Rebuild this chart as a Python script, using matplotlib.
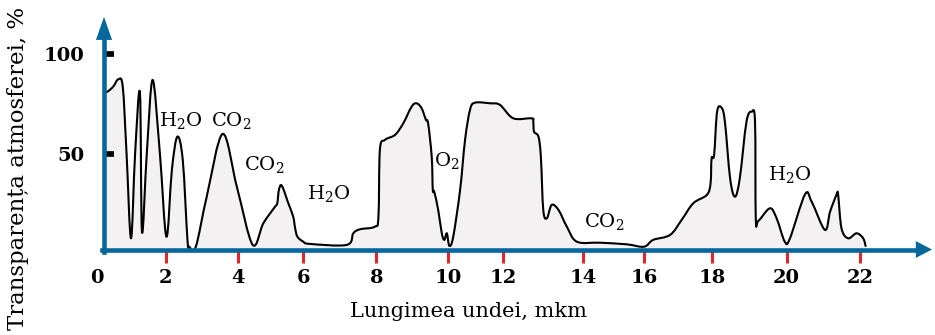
"""
Atmospheric transparency versus wavelength,
with the absorption bands of H2O, CO2 and O2.
"""

import numpy as np
import matplotlib
matplotlib.use("Agg")
import matplotlib.pyplot as plt
from matplotlib.path import Path
from matplotlib.patches import PathPatch
from matplotlib.transforms import IdentityTransform

# wavelength, mkm
WAVELENGTH: list[float] = [
    0.20, 0.30, 0.47, 0.62, 0.75, 0.86, 0.99, 1.11, 1.25, 1.31,
    1.45, 1.62, 1.83, 2.02, 2.17, 2.32, 2.47, 2.60, 2.65, 2.83,
    3.13, 3.57, 3.96, 4.44, 4.77, 5.13, 5.20, 5.25, 5.34, 5.54,
    5.69, 5.75, 5.82, 6.00, 6.18, 7.19, 7.37, 7.55, 7.96, 8.06,
    8.10, 8.24, 8.52, 8.75, 8.98, 9.12, 9.26, 9.38, 9.44, 9.54,
    9.57, 9.61, 9.72, 9.82, 9.89, 9.96, 10.04, 10.18, 10.43, 10.61,
    10.79, 10.97, 11.52, 11.88, 12.25, 12.71, 12.75, 12.77, 12.88, 12.94,
    13.00, 13.09, 13.21, 13.38, 13.59, 13.84, 14.55, 15.42, 15.99, 16.26,
    16.76, 17.10, 17.44, 17.84, 17.95, 17.98, 18.05, 18.13, 18.25, 18.34,
    18.48, 18.61, 18.74, 18.92, 19.06, 19.15, 19.17, 19.24, 19.55, 19.73,
    19.95, 20.09, 20.50, 20.68, 21.04, 21.18, 21.36, 21.40, 21.49, 21.67,
    21.90, 22.08, 22.15,
]

# transparency, %
TRANSPARENCY: list[float] = [
    81.3, 81.3, 83.8, 87.5, 83.8, 50.6, 8.0, 50.6, 80.8, 11.2,
    50.6, 87.2, 50.6, 8.8, 42.2, 58.8, 47.2, 7.2, 3.8, 3.8,
    28.8, 60.2, 33.8, 4.8, 15.5, 23.8, 25.5, 32.2, 34.3, 25.5,
    18.8, 13.0, 8.8, 6.3, 5.2, 4.7, 10.5, 12.5, 13.8, 18.8,
    52.2, 57.2, 59.7, 65.5, 73.8, 75.5, 73.0, 67.2, 65.5, 48.8,
    32.2, 31.3, 22.2, 10.5, 7.2, 10.5, 4.2, 8.8, 32.2, 57.2,
    72.2, 75.8, 75.5, 74.7, 68.0, 68.0, 66.3, 61.3, 58.8, 48.8,
    22.2, 18.0, 24.7, 22.2, 13.8, 6.3, 5.8, 5.0, 3.8, 7.2,
    9.7, 17.2, 25.5, 29.7, 35.5, 48.0, 49.7, 71.3, 73.3, 66.3,
    38.0, 28.8, 38.0, 66.3, 71.3, 66.3, 18.0, 16.7, 23.0, 18.0,
    6.3, 8.0, 30.0, 26.3, 12.2, 21.3, 30.0, 29.7, 13.0, 8.0,
    10.5, 8.0, 3.8,
]

X_TICKS: list[int] = [0, 2, 4, 6, 8, 10, 12, 14, 16, 18, 20, 22]
Y_TICKS: list[int] = [50, 100]

BAND_LABELS: list[str] = [
    "H$_2$O", "CO$_2$", "CO$_2$", "H$_2$O", "O$_2$", "CO$_2$", "H$_2$O",
]
BAND_X: list[float] = [2.42, 3.80, 4.79, 6.70, 9.96, 14.68, 20.09]
BAND_Y: list[float] = [66.7, 66.7, 44.7, 30.2, 46.7, 16.2, 39.7]

# the original drawing spaces its ticks unevenly: pixel of each tick
TICK_PIXELS: list[float] = [
    97, 165.7, 238.3, 303.3, 376.3, 448.3,
    503.3, 583.3, 644.3, 712.3, 786.7, 860.3,
]

AXIS_BLUE = "#05679c"
TICK_RED = "#e3262e"
FILL_GREY = "#f3f1f2"
FONT = "DejaVu Serif"

X_MAX = 23.95
Y_MAX = 119.65
Y_AXIS_X = 0.204
X_AXIS_Y = 2.4


def make_scale():
    t = np.array([-10.0] + X_TICKS + [40.0])
    p = np.array(
        [TICK_PIXELS[0] - 10 * 34.35]
        + TICK_PIXELS
        + [TICK_PIXELS[-1] + 18 * 36.8]
    )

    def forward(x):
        return np.interp(x, t, p)

    def inverse(v):
        return np.interp(v, p, t)

    return forward, inverse


def smooth_path(pts):
    """Catmull-Rom curve through the points, as cubic Bezier pieces."""
    n = len(pts)
    verts = [pts[0]]
    codes = [Path.MOVETO]
    for i in range(n - 1):
        p_prev = pts[max(i - 1, 0)]
        p_next = pts[min(i + 2, n - 1)]
        c1 = pts[i] + (pts[i + 1] - p_prev) / 6
        c2 = pts[i + 1] - (p_next - pts[i]) / 6
        verts += [c1, c2, pts[i + 1]]
        codes += [Path.CURVE4] * 3
    return verts, codes


def create_chart() -> None:
    plt.rcParams["mathtext.fontset"] = "dejavuserif"
    fig = plt.figure(figsize=(9.35, 3.35), dpi=100)
    ax = fig.add_axes([97 / 935, 80.7 / 335, 835 / 935, 239.3 / 335])

    ax.set_xscale("function", functions=make_scale())
    ax.set_xlim(0, X_MAX)
    ax.set_ylim(0, Y_MAX)

    pts = ax.transData.transform(np.column_stack([WAVELENGTH, TRANSPARENCY]))
    base = ax.transData.transform([[WAVELENGTH[-1], 0], [WAVELENGTH[0], 0]])
    verts, codes = smooth_path(pts)

    fill_path = Path(
        verts + [base[0], base[1], base[1]],
        codes + [Path.LINETO, Path.LINETO, Path.CLOSEPOLY],
    )
    ax.add_patch(PathPatch(fill_path, transform=IdentityTransform(),
                           facecolor=FILL_GREY, lw=0, zorder=1))
    ax.add_patch(PathPatch(Path(verts, codes), transform=IdentityTransform(),
                           facecolor="none", edgecolor="black", lw=1.5,
                           joinstyle="round", zorder=2))

    for label, x, y in zip(BAND_LABELS, BAND_X, BAND_Y):
        ax.text(x, y, label, ha="center", va="center",
                fontsize=14, family=FONT)

    for side in ("top", "right"):
        ax.spines[side].set_visible(False)
    ax.spines["left"].set_position(("data", Y_AXIS_X))
    ax.spines["bottom"].set_position(("data", X_AXIS_Y))
    for side in ("left", "bottom"):
        ax.spines[side].set_color(AXIS_BLUE)
        ax.spines[side].set_linewidth(3.3)
        ax.spines[side].set_zorder(3)
    ax.spines["left"].set_bounds(1.3, 108)
    ax.spines["bottom"].set_bounds(0.14, 23.6)

    # arrow heads
    ax.fill([Y_AXIS_X - 0.235, Y_AXIS_X + 0.235, Y_AXIS_X],
            [107.2, 107.2, 118.7], color=AXIS_BLUE, lw=0,
            clip_on=False, zorder=3)
    ax.fill([23.51, 23.51, X_MAX], [X_AXIS_Y + 4.2, X_AXIS_Y - 4.2, X_AXIS_Y],
            color=AXIS_BLUE, lw=0, clip_on=False, zorder=3)

    ax.set_xticks(X_TICKS)
    ax.set_xticklabels([str(v) for v in X_TICKS])
    ax.set_yticks(Y_TICKS)
    ax.set_yticklabels([str(v) for v in Y_TICKS])
    ax.xaxis.set_minor_locator(plt.NullLocator())
    ax.tick_params(axis="x", direction="out", length=9, width=2.2,
                   color=TICK_RED, pad=5, labelsize=14)
    ax.tick_params(axis="y", direction="in", length=7.5, width=4.1,
                   color="black", pad=14, labelsize=14)
    ax.xaxis.get_major_ticks()[0].tick1line.set_visible(False)
    for lab in ax.get_xticklabels() + ax.get_yticklabels():
        lab.set_family(FONT)
        lab.set_fontweight("bold")

    fig.text(468.5 / 935, 0.0687, "Lungimea undei, mkm",
             ha="center", va="center", fontsize=15, family=FONT)
    fig.text(18 / 935, 0.4985, "Transparența atmosferei, %",
             ha="center", va="center", rotation=90, fontsize=16.5,
             family=FONT)

    fig.savefig("out.png", dpi=100)


if __name__ == "__main__":
    create_chart()
